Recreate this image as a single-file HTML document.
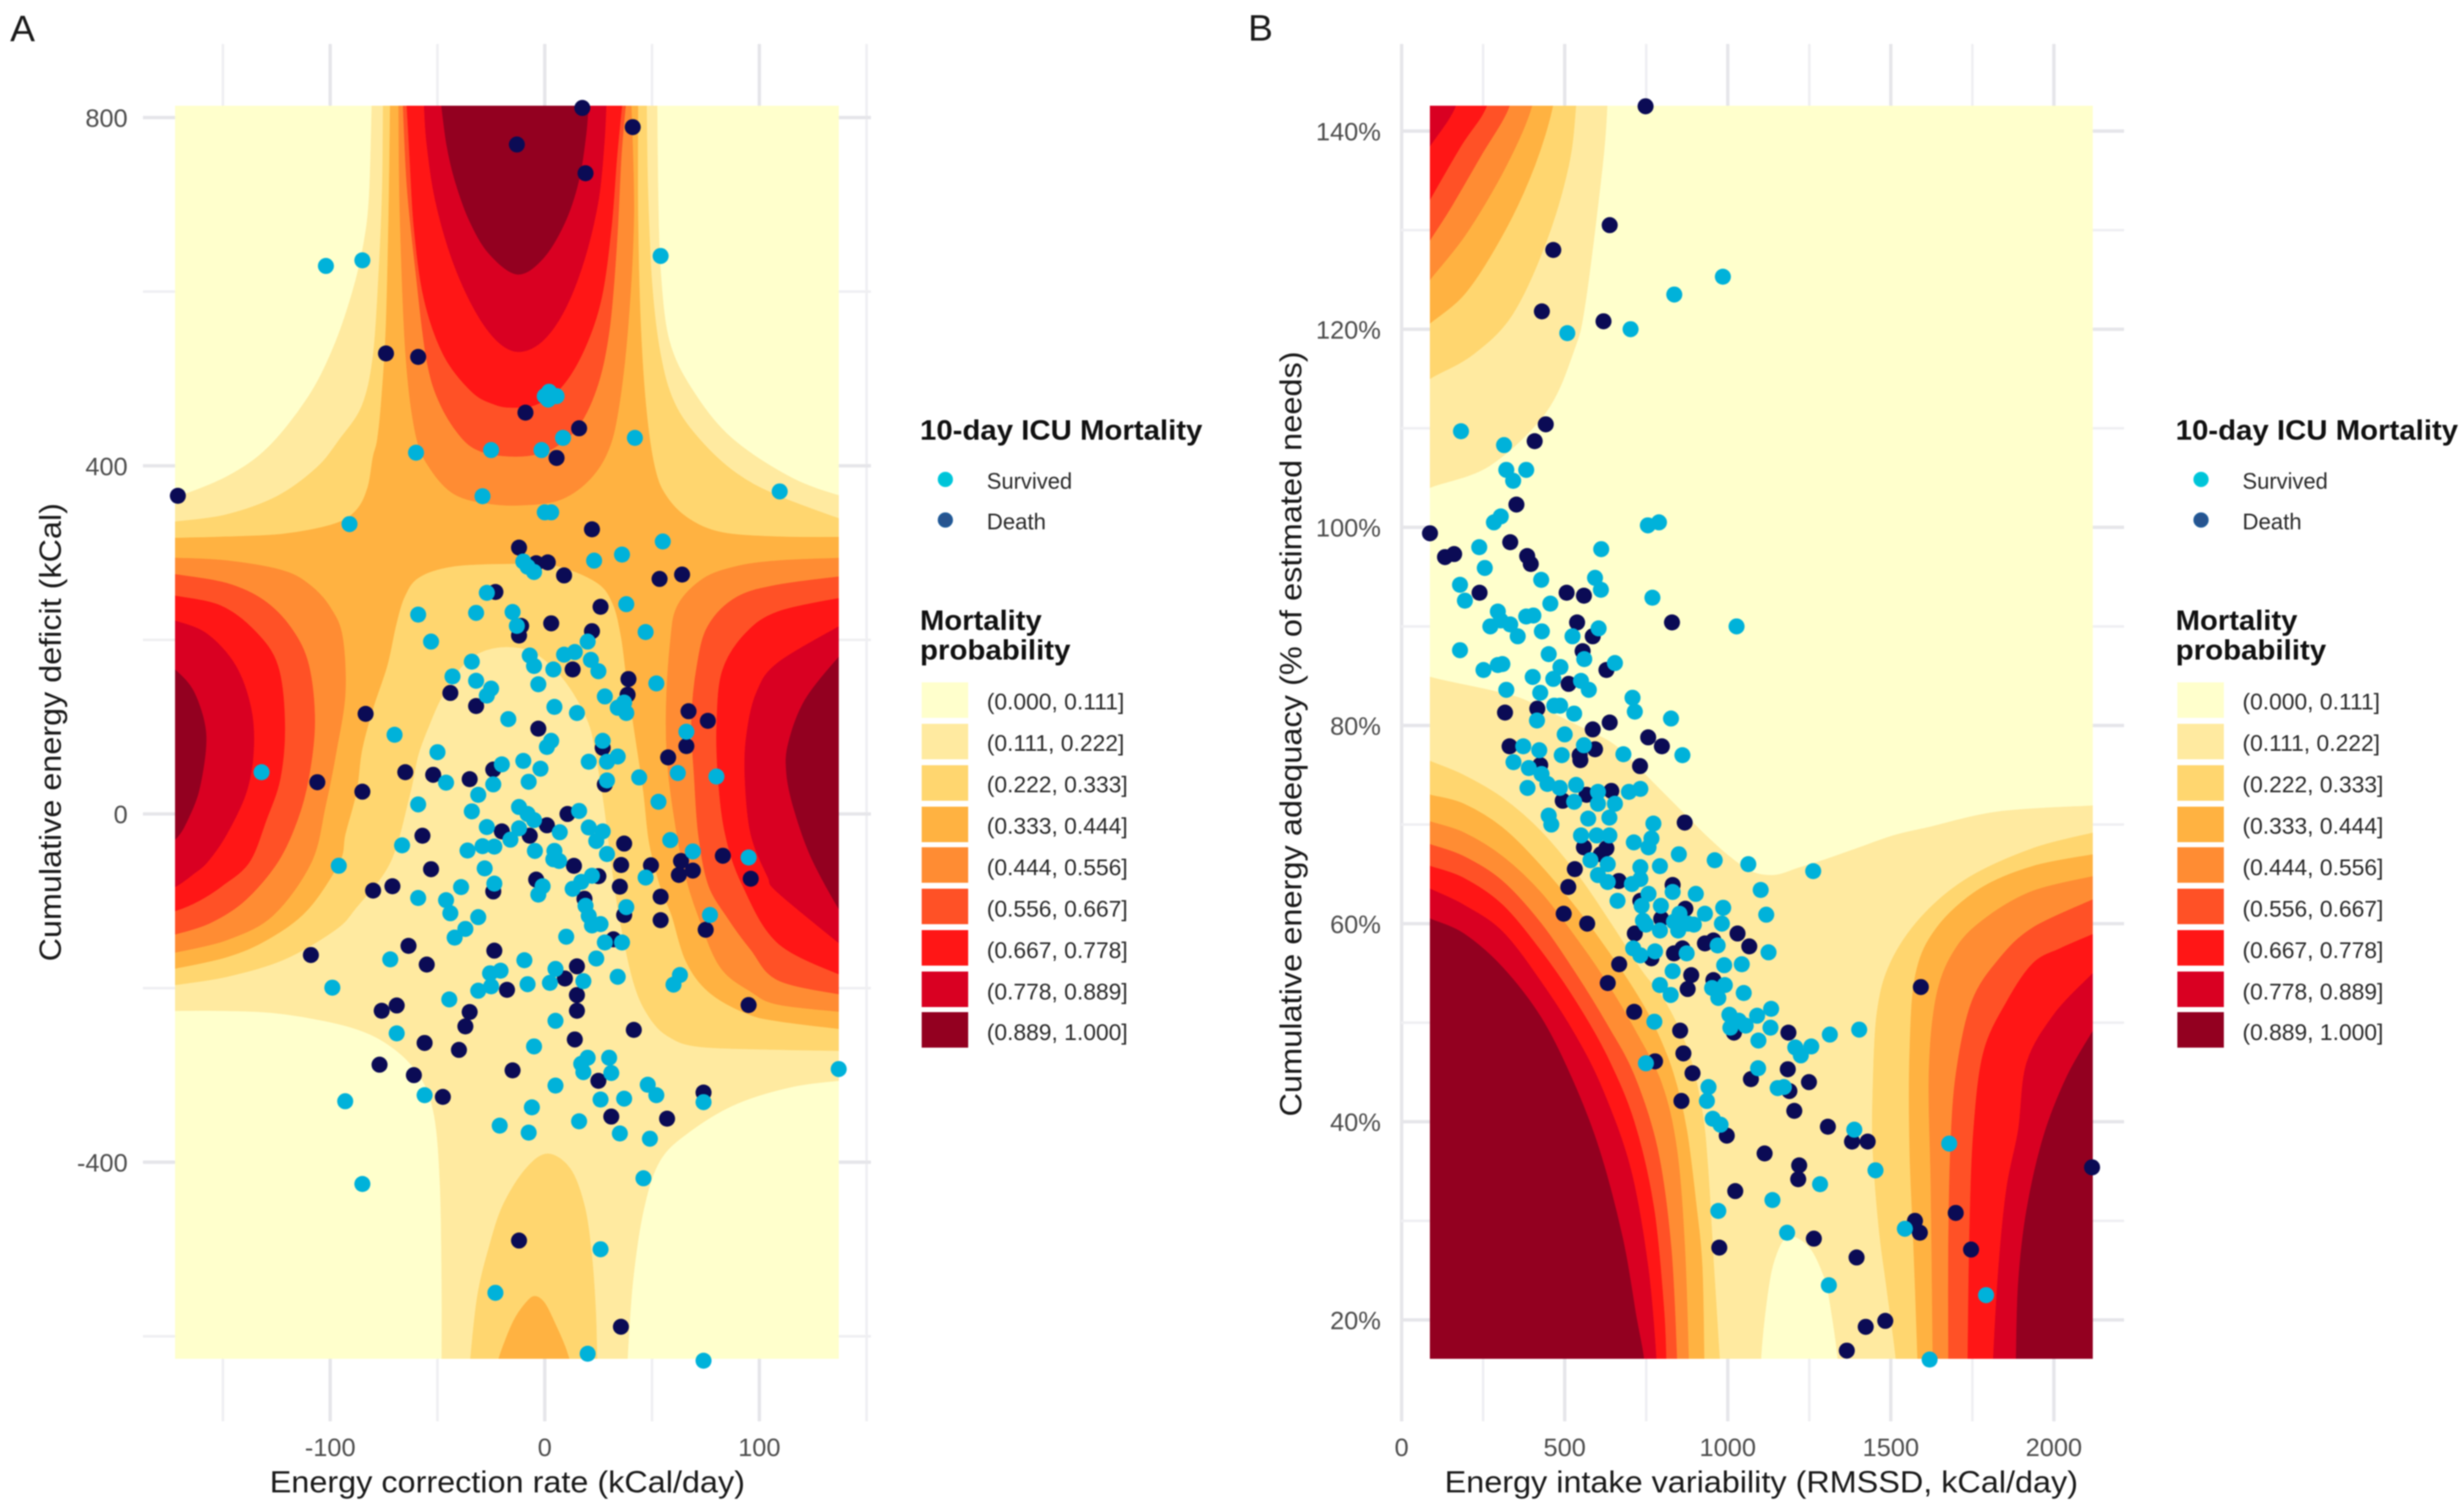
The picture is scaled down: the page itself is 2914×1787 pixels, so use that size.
<!DOCTYPE html>
<html lang="en">
<head>
<meta charset="utf-8">
<title>10-day ICU mortality probability maps</title>
<style>
html,body{margin:0;padding:0;background:#fff;width:2914px;height:1787px;overflow:hidden}
svg{display:block;filter:blur(0.8px)}
text{font-family:"Liberation Sans",sans-serif;fill:#1a1a1a}
.tick{font-size:30px;fill:#4d4d4d}
.title{font-size:36px}
.leg{font-size:27px;fill:#2a2a2a}
.legt{font-size:33px;font-weight:bold;fill:#111}
.pl{font-size:44px}
</style>
</head>
<body>
<svg id="chart" xmlns="http://www.w3.org/2000/svg" width="2914" height="1787" viewBox="0 0 2914 1787">
<defs>
<clipPath id="clipA"><rect x="207" y="125" width="785" height="1482"/></clipPath>
<clipPath id="clipB"><rect x="1691" y="125" width="784" height="1482"/></clipPath>
</defs>
<rect width="2914" height="1787" fill="#fff"/>

<g id="gridA"></g>
<g id="gridB"></g>
<g id="fillA" clip-path="url(#clipA)"></g>
<g id="fillB" clip-path="url(#clipB)"></g>
<g id="ptsA"></g>
<g id="ptsB"></g>
<g id="ticksA"></g>
<g id="ticksB"></g>

<text class="pl" x="12" y="49">A</text>
<text class="pl" x="1476" y="48">B</text>

<text class="title" x="600" y="1765" text-anchor="middle" textLength="562" lengthAdjust="spacingAndGlyphs">Energy correction rate (kCal/day)</text>
<text class="title" transform="translate(72,866) rotate(-90)" text-anchor="middle" textLength="542" lengthAdjust="spacingAndGlyphs">Cumulative energy deficit (kCal)</text>
<text class="title" x="2083" y="1765" text-anchor="middle" textLength="749" lengthAdjust="spacingAndGlyphs">Energy intake variability (RMSSD, kCal/day)</text>
<text class="title" transform="translate(1539,868) rotate(-90)" text-anchor="middle" textLength="905" lengthAdjust="spacingAndGlyphs">Cumulative energy adequacy (% of estimated needs)</text>

<g>
<text class="legt" x="1088" y="520" textLength="334" lengthAdjust="spacingAndGlyphs">10-day ICU Mortality</text>
<circle cx="1118" cy="567" r="8" fill="#00c4d8" stroke="#00c8dc" stroke-width="2"/>
<text class="leg" x="1167" y="578" textLength="101" lengthAdjust="spacingAndGlyphs">Survived</text>
<circle cx="1118" cy="615" r="8" fill="#27548f" stroke="#1f5a99" stroke-width="2"/>
<text class="leg" x="1167" y="626" textLength="70" lengthAdjust="spacingAndGlyphs">Death</text>
<text class="legt" x="1088" y="745" textLength="144" lengthAdjust="spacingAndGlyphs">Mortality</text>
<text class="legt" x="1088" y="780" textLength="178" lengthAdjust="spacingAndGlyphs">probability</text>
<rect x="1090" y="807" width="55" height="42" fill="#FFFFCC"/><text class="leg" x="1167" y="839">(0.000, 0.111]</text>
<rect x="1090" y="856" width="55" height="42" fill="#FFEAA0"/><text class="leg" x="1167" y="888">(0.111, 0.222]</text>
<rect x="1090" y="905" width="55" height="42" fill="#FFD66F"/><text class="leg" x="1167" y="937">(0.222, 0.333]</text>
<rect x="1090" y="954" width="55" height="42" fill="#FFB241"/><text class="leg" x="1167" y="986">(0.333, 0.444]</text>
<rect x="1090" y="1002" width="55" height="42" fill="#FF8C33"/><text class="leg" x="1167" y="1035">(0.444, 0.556]</text>
<rect x="1090" y="1051" width="55" height="42" fill="#FF5126"/><text class="leg" x="1167" y="1084">(0.556, 0.667]</text>
<rect x="1090" y="1100" width="55" height="42" fill="#FF1616"/><text class="leg" x="1167" y="1133">(0.667, 0.778]</text>
<rect x="1090" y="1149" width="55" height="42" fill="#D90022"/><text class="leg" x="1167" y="1182">(0.778, 0.889]</text>
<rect x="1090" y="1197" width="55" height="42" fill="#930020"/><text class="leg" x="1167" y="1230">(0.889, 1.000]</text>
</g>

<g transform="translate(1485,0)">
<text class="legt" x="1088" y="520" textLength="334" lengthAdjust="spacingAndGlyphs">10-day ICU Mortality</text>
<circle cx="1118" cy="567" r="8" fill="#00c4d8" stroke="#00c8dc" stroke-width="2"/>
<text class="leg" x="1167" y="578" textLength="101" lengthAdjust="spacingAndGlyphs">Survived</text>
<circle cx="1118" cy="615" r="8" fill="#27548f" stroke="#1f5a99" stroke-width="2"/>
<text class="leg" x="1167" y="626" textLength="70" lengthAdjust="spacingAndGlyphs">Death</text>
<text class="legt" x="1088" y="745" textLength="144" lengthAdjust="spacingAndGlyphs">Mortality</text>
<text class="legt" x="1088" y="780" textLength="178" lengthAdjust="spacingAndGlyphs">probability</text>
<rect x="1090" y="807" width="55" height="42" fill="#FFFFCC"/><text class="leg" x="1167" y="839">(0.000, 0.111]</text>
<rect x="1090" y="856" width="55" height="42" fill="#FFEAA0"/><text class="leg" x="1167" y="888">(0.111, 0.222]</text>
<rect x="1090" y="905" width="55" height="42" fill="#FFD66F"/><text class="leg" x="1167" y="937">(0.222, 0.333]</text>
<rect x="1090" y="954" width="55" height="42" fill="#FFB241"/><text class="leg" x="1167" y="986">(0.333, 0.444]</text>
<rect x="1090" y="1002" width="55" height="42" fill="#FF8C33"/><text class="leg" x="1167" y="1035">(0.444, 0.556]</text>
<rect x="1090" y="1051" width="55" height="42" fill="#FF5126"/><text class="leg" x="1167" y="1084">(0.556, 0.667]</text>
<rect x="1090" y="1100" width="55" height="42" fill="#FF1616"/><text class="leg" x="1167" y="1133">(0.667, 0.778]</text>
<rect x="1090" y="1149" width="55" height="42" fill="#D90022"/><text class="leg" x="1167" y="1182">(0.778, 0.889]</text>
<rect x="1090" y="1197" width="55" height="42" fill="#930020"/><text class="leg" x="1167" y="1230">(0.889, 1.000]</text>
</g>
</svg>

<script>
const levelColors = ['#FFFFCC','#FFEAA0','#FFD66F','#FFB241','#FF8C33','#FF5126','#FF1616','#D90022','#930020'];

const xTicksA = [-100,0,100];
const yTicksA = [-400,0,400,800];
const xGridA = [-150,-100,-50,0,50,100,150];
const yGridA = [-600,-400,-200,0,200,400,600,800];
const xTicksB = [0,500,1000,1500,2000];
const yTicksB = [20,40,60,80,100,120,140];
const xGridB = [0,250,500,750,1000,1250,1500,1750,2000];
const yGridB = [20,30,40,50,60,70,80,90,100,110,120,130,140];

const survivedA = [[55,313],[36,298],[23,291],[-10,290],[-8,284],[-5,278],[-27,254],[-59,229],[-32,231],[38,241],[-15,232],[-13,216],[20,198],[47,209],[-53,198],[-7,182],[-5,170],[9,183],[14,186],[21.5,177],[25,164],[-34,175],[4,166],[-43,158],[-32,153],[-3,149],[52,150],[-25,144],[-27,136],[28,135],[37,128],[34,122],[38,116],[4.5,123],[15,116],[-17,109],[66,94.5],[-70,91],[3,84],[1,77],[27,84],[34,66],[29,60],[-50,71],[20.5,60],[-10,61],[-20,57],[-2,52],[-46,36],[-24,34],[-7.5,37],[29,38.5],[44,42],[62,47],[80,43],[-31,22],[53,14],[-59,11],[-34,3],[-12,8],[-8,0],[-5,-7],[16,3.5],[20.5,-15.5],[27,-20],[24,-31],[-27,-15],[-12,-16.5],[-16,-29.5],[7,-21],[58.5,-30],[-66.5,-36],[-36,-42],[-29,-37],[-23.5,-37.5],[-4.6,-42.4],[4.5,-42.4],[4,-52],[6.7,-54],[29,-46],[69,-43],[95,-50],[-28,-62.5],[47,-73],[22,-71],[-1,-83],[-23.5,-80],[-39,-84],[17,-78],[13,-86],[-59,-96.5],[-3,-92.6],[-46,-99],[-44,-114],[19,-105.5],[-31,-118.5],[38,-107],[77,-116],[20.5,-117],[22,-128],[26,-126.5],[-37,-132],[-42,-142],[10,-141],[28,-147.6],[36,-147.6],[24,-166],[-72,-167],[-9.5,-168],[5,-178],[18,-192],[2.4,-194],[34,-187],[-8,-195.5],[-25.5,-183],[-20.6,-180],[-25,-198],[-31,-203],[-44.5,-213],[63,-185],[60,-196],[5,-237.6],[-69,-252],[-5,-267],[20,-280],[17,-287],[18,-296.5],[30,-280],[31,-297.5],[5,-312],[48,-311],[52,-323],[74,-331],[-56,-323],[-6,-337],[26,-328],[37,-327],[-21,-358],[-7.5,-366],[16,-353],[35,-367],[49,-373],[46,-418.5],[-85,-425],[26,-500],[-23,-550],[20,-620],[74,-628],[137,-293],[54,641],[-85,636],[-102,629.5],[2,485],[0,480],[5.5,480],[1.6,476],[8.5,432],[42,432],[-25,418],[-1.5,418],[-60,415],[109.5,370.5],[-29,365],[0,346.5],[3,346.5],[-91,333],[-132,48],[-96,-59.5],[-99,-199.5],[-93,-330]];

const deathA = [[-12,306],[22,327],[1.4,289],[-4,288],[9,274],[53.5,270],[64,275],[-23,255],[26,238],[-11,216],[-12,205],[3,219],[22,210],[13,166],[39,155],[-44,139],[-32,124],[38.6,137],[-83.5,115],[67,118],[76,107],[-3,98],[27,76],[66,78],[57.5,65],[-24,51],[-65,48],[-52,45],[-35,40],[28,34],[-85,25.6],[10.6,0],[1,-13],[-20,-20],[-7,-25],[-57,-25],[37,-34],[83,-48],[63.5,-54],[69,-65],[62.5,-70],[49.5,-59],[35.6,-58.6],[13.6,-59.6],[-53,-63.4],[96,-74.4],[25,-71.5],[-4,-75.4],[-24,-89],[35,-83.5],[-80,-88],[-71,-83],[18.5,-97.4],[54,-95],[37,-116],[54,-122],[75,-133],[-63.5,-151.5],[-55,-173],[-23.5,-157],[32,-144],[15,-175],[9.4,-189],[-17.6,-202],[15,-208],[15,-226],[95,-219.5],[-69,-220],[-76,-226],[-35,-227.5],[-37,-244],[-56,-263],[41.5,-248],[-40,-271],[14,-259],[-77,-288],[-61,-300],[-15,-294.5],[25,-306.5],[74,-320],[-47.5,-325],[31,-347.6],[57,-350],[-12,-490],[35.5,-589],[17.5,811],[41,789],[-13,769],[19,736],[-74,529],[-59,525],[-9,461],[16,443],[5.5,409],[-171,365.5],[-106,36.5],[-109,-162]];

const survivedB = [[985,125.3],[836,123.5],[702,120],[508,119.6],[182,109.7],[314,108.3],[321,105.8],[382,105.8],[342,104.7],[304,101.1],[283,100.5],[789,100.5],[755,100.2],[238,98],[612,97.8],[255,95.9],[593,94.9],[428,94.7],[179,94.2],[611,93.7],[769,92.9],[194,92.6],[456,92.3],[295,91.5],[382,91],[404,91.1],[304,90.6],[333,90.2],[1027,90],[272,90],[604,89.8],[430,89.5],[356,89],[524,89],[179,87.6],[451,87.2],[560,86.7],[654,86.3],[309,86.2],[295,86.1],[487,85.9],[251,85.6],[402,84.9],[465,84.7],[550,84.5],[574,83.6],[321,83.6],[425,83.3],[708,82.8],[468,82],[486,82],[715,81.4],[529,81.2],[826,80.7],[415,80.5],[500,79.1],[373,77.9],[422,77.5],[559,78],[491,77],[680,77.1],[861,77],[343,76.3],[390,75.7],[386,73.7],[429,75.1],[447,74.1],[485,73.7],[535,74],[529,72.3],[602,73.3],[602,72.1],[654,72.1],[697,73.3],[732,73.6],[451,70.9],[459,70],[572,70.6],[637,70.7],[772,70.1],[550,68.9],[598,68.9],[637,68.9],[712,68.2],[766,68.6],[757,67.7],[579,66.4],[632,66],[850,67],[960,66.4],[1063,66],[1262,65.3],[732,65.7],[792,65.8],[602,64.9],[632,64.2],[706,64],[732,64.5],[757,63],[831,63.2],[1101,63.4],[662,62.3],[902,63],[736,61.8],[795,61.8],[986,61.6],[1118,60.9],[930,61],[852,61],[740,60.3],[835,60.2],[878,60],[982,60],[792,59.3],[848,59.3],[896,59.9],[749,59.9],[969,57.8],[1125,57.1],[710,57.5],[732,56.8],[777,57.2],[874,57],[989,55.8],[1043,55.9],[831,55.2],[792,53.8],[952,53.5],[991,53.8],[825,52.8],[1049,53],[971,52.5],[1005,50.8],[775,50.1],[1133,51.4],[1090,50.7],[1034,50.2],[1055,49.7],[1131,49.5],[1008,49.5],[1094,48.2],[1313,48.8],[1403,49.3],[1207,47.5],[1256,47.6],[1224,46.7],[749,45.9],[1093,45.4],[1153,43.4],[1172,43.5],[941,43.5],[936,42.1],[954,40.3],[978,39.7],[1388,39.2],[1679,37.8],[1453,35.1],[1283,33.7],[1137,32.1],[971,31],[1543,29.2],[1182,28.8],[1792,22.5],[1310,23.5],[1619,16]];

const deathB = [[748,142.5],[638,130.5],[465,128],[430,121.8],[619,120.8],[442,110.4],[408,108.7],[352,102.3],[87,99.4],[333,98.5],[133,97],[161,97.3],[385,97.1],[396,96.3],[239,93.4],[506,93.4],[559,93.1],[538,90.4],[829,90.4],[586,89],[555,87.5],[628,85.6],[512,84.2],[416,81.7],[317,81.3],[638,80.3],[586,79.6],[756,78.8],[798,77.9],[331,77.9],[593,77.6],[546,77],[425,76],[548,76.5],[731,75.9],[494,72.4],[567,73],[643,73.4],[868,70.2],[559,67.7],[628,67.6],[611,67],[531,65.5],[666,64.3],[511,63.7],[831,63.9],[732,62.3],[497,61],[569,60],[870,61.5],[796,60.5],[715,59],[1030,59],[930,58],[956,58.3],[1066,57.7],[766,56.5],[835,57],[861,57.5],[667,55.9],[888,54.8],[632,54],[956,54.3],[877,53.4],[713,51.1],[1019,49],[854,49.2],[1186,49],[864,46.9],[777,46.1],[1184,45.3],[892,44.9],[1071,44.3],[1249,44],[1189,43.1],[858,42.1],[1204,41.1],[997,38.6],[1307,39.5],[1381,38],[1429,38],[1113,36.8],[1219,35.6],[1216,34.2],[1023,33],[1574,30],[1589,28.8],[1699,30.8],[1264,28.2],[974,27.3],[1746,27.1],[1395,26.3],[1592,53.6],[1483,19.9],[1423,19.3],[1365,16.9],[2117,35.4]];

/* Contour bands in data units: [level, ring]; a ring is a list of smooth curves joined by straight edges. */
const bandsA = [
[1,[[[-80.5,820],[-81.8,711],[-84.4,655],[-89.7,599],[-99,533],[-110.8,477],[-129,421],[-147.8,388],[-171.5,364],[-178,361]],
    [[-178,-226],[-147.8,-226],[-121,-230],[-89.7,-245.6],[-71.2,-268],[-58,-302],[-51.5,-346.7],[-48.8,-425],[-48,-538],[-48,-635]],
    [[38.3,-635],[41,-538],[46.2,-453],[54,-397],[68.6,-363],[89.7,-332.6],[116,-313],[142,-305]],
    [[142,362],[116,385],[87,432],[68.6,488],[58,544],[54,622],[52.8,711],[52.3,820]]]],
[2,[[[-75.3,820],[-75.7,721],[-77.3,624],[-80,527],[-85.2,469],[-95.7,430],[-106.2,398],[-124.5,365.3],[-148.2,344],[-171.1,336],[-178,335]],
    [[-178,-197],[-171.5,-196],[-147.8,-186.6],[-121.4,-167],[-97.6,-133],[-87.8,-107.3],[-72,-55.3],[-62.9,22.3],[-59,67.6],[-53.7,103],[-48.4,132.4],[-39.2,168],[-30,185.7],[-18.2,192],[-6.4,187],[4,168],[13.3,139],[21.1,100],[25,51.4],[27.7,9.4],[31,-55.4],[34.9,-120],[41.5,-194.5],[48.7,-233.4],[57.9,-256],[72.3,-267.3],[109,-270.6],[142,-272]],
    [[142,335],[109,365.3],[89.4,391.2],[72.3,430],[60.5,472],[54,527],[50,608],[48,721.3],[47.4,822]]]],
[2,[[[-34.7,-635],[-34.7,-628],[-31.4,-554],[-26.1,-499],[-19.6,-450],[-9,-408],[1.4,-390.3],[12,-408],[18.5,-450],[21.8,-505],[23.7,-570],[24.4,-635]]]],
[3,[[[-72,820],[-72.7,689],[-74,559.5],[-76,478.6],[-78,430],[-80,410.6],[-82.5,375],[-87.8,349],[-98.3,333],[-122,321.6],[-148.2,318.4],[-171,317],[-178,317]],
    [[-178,-178],[-171.5,-177],[-147.8,-164],[-129.3,-144.4],[-110.8,-110.7],[-95.8,-55.7],[-93,-23],[-87.8,25.5],[-85.2,74],[-79.9,122.6],[-73.4,171],[-69.4,216.4],[-65.5,248.8],[-58.9,271.4],[-43.2,284.4],[-16.9,287.6],[4,286],[23.8,266.7],[31.6,242.4],[35.6,203.6],[38.2,155],[42.1,90.3],[46,25.6],[48.7,-32.7],[54,-84.5],[59.2,-116.8],[65.7,-168.6],[76.2,-204],[93.3,-228.5],[109,-238],[142,-248]],
    [[142,318],[109,318.4],[82.8,323.3],[67,339.4],[56.6,365.3],[51.3,397.7],[47.4,462.4],[44.7,559.5],[43.4,689],[43.4,820]]]],
[3,[[[-22.5,-635],[-20,-615],[-14.5,-582],[-9,-562],[-4.7,-554],[0,-562],[5.3,-588],[9.5,-612],[12.5,-635]]]],
[4,[[[-68.1,820],[-67.5,689],[-64.8,527],[-60.2,436.5],[-53.7,397.7],[-41.9,367],[-24.8,356],[-9,355],[6.7,360.5],[19.8,381.5],[29,414],[34.2,462.4],[38.8,559.5],[41.5,689],[40.2,820]]]],
[4,[[[-178,294],[-171.1,294],[-148.2,291],[-121.9,279.5],[-108.8,261.7],[-99.6,235.8],[-94.3,203.5],[-93,138.7],[-97,74],[-102.2,9.3],[-108.8,-55.4],[-126.6,-116.4],[-147.8,-144.4],[-171.5,-158.5],[-178,-160]]]],
[4,[[[142,295],[137.4,294],[109,291],[89.4,284.5],[73.6,270],[61.8,239],[58.5,197],[56.6,122.6],[57.2,58],[60.5,-6.8],[65,-65],[71,-113.6],[81.5,-175],[96,-204],[109,-219],[142,-228]]]],
[5,[[[-66.1,820],[-64.2,721.3],[-60.2,624],[-55,521],[-48.4,469],[-38,430],[-28.7,415.5],[-17.6,411],[-6.4,412],[4,420],[15.9,446],[25,495],[30.3,559.5],[33.6,656.6],[35.6,753.7],[37.9,820]]]],
[5,[[[-178,275],[-171.1,274.7],[-148.2,265],[-131,245.5],[-118,213],[-110,171],[-107.2,106],[-110,41.7],[-115.3,-7],[-124.5,-55.4],[-139.8,-99.5],[-155.7,-124.8],[-171.5,-137.7],[-178,-140]]]],
[5,[[[142,274],[109,263.4],[89.4,249],[76.2,216.5],[71,171],[68.4,106.5],[69.7,41.7],[71.6,-23],[76.2,-81],[85.4,-120],[96,-155.7],[109,-191.3],[142,-209]]]],
[6,[[[-64.4,820],[-62.9,754],[-60.9,673],[-56.3,592],[-47.1,527],[-34,485],[-23.5,470.5],[-15,467],[-3.8,470.5],[8,491],[18.5,534],[26.4,592],[31,673],[33.6,754],[36.2,820]]]],
[6,[[[-178,251],[-171.1,250],[-150.8,239],[-135,210],[-124.5,171],[-121.2,106],[-123.2,41.7],[-129.8,-7],[-137.7,-55.4],[-150.4,-82.6],[-161,-99.5],[-171.5,-110.7],[-178,-113]]]],
[6,[[[142,250],[109,232.7],[93.3,206.8],[82.8,164.7],[80.2,106.5],[80.8,41.7],[84.1,-23],[92,-81],[109,-149],[142,-189]]]],
[7,[[[-56.3,820],[-55,770],[-51,705],[-43.2,637],[-32.7,579],[-22.2,543.3],[-12.3,531],[-1.2,543],[9.3,579],[18.5,637],[25,705],[27.7,770],[28.7,820]]]],
[7,[[[-178,224],[-171.1,221],[-157.3,206.7],[-144.2,171],[-137,122.6],[-135.7,74],[-139,25.5],[-148.2,-23],[-157.3,-55.4],[-163.6,-68.6],[-171.5,-82.6],[-178,-88]]]],
[7,[[[142,222],[109,174.4],[98.6,139],[94,90],[93.3,41.7],[96,-23],[103.8,-71.5],[109,-91],[142,-158]]]],
[8,[[[-48.4,820],[-45.8,770],[-41.9,728],[-35.3,682.5],[-26.1,644],[-13,620],[-1.2,637],[9.3,679],[15.9,728],[19.2,780],[20.5,820]]]],
[8,[[[-178,175],[-171.1,163],[-163.9,142],[-158.7,106],[-158,74],[-161.3,25.5],[-166.5,-7],[-171.1,-26.3],[-178,-40]]]],
[8,[[[142,190],[137.5,181.6],[121.4,131.5],[113.5,81],[112.7,46.6],[116,7],[124,-49],[137.5,-111],[142,-125]]]]
];

const bandsB = [
[1,[[[70,85.5],[86.6,84.9],[251.5,83.7],[317,83.2],[369,82.7],[429,81.8],[533,80.1],[636.5,78.4],[688,77],[757.4,74.7],[826.5,72.4],[878,70.7],[939,68.7],[1008,66.7],[1077,65.2],[1146,64.9],[1215,65.6],[1293,66.4],[1396.5,67.6],[1509,68.9],[1612.5,69.7],[1830,71.3],[2117,71.9],[2125,71.9]],
    [[2125,12]],
    [[1342,12],[1338,15.9],[1314,21.6],[1296,24.3],[1249,27.4],[1183,28.4],[1141.5,25.9],[1118,21.6],[1101,15.9],[1099,12]],
    [[70,12]]]],
[1,[[[632,146],[630,142.5],[616,136.5],[564,122.8],[529,117.9],[442,111.6],[269,106.2],[86.6,104],[70,103]],[[70,146]]]],
[2,[[[536,146],[534,142.5],[512,136.5],[442,128.7],[338,121.4],[217,117.4],[87,115],[70,114]],[[70,146]]]],
[3,[[[465,146],[463,142.5],[408,136.5],[321,130.2],[199.4,123.8],[87,120.6],[70,120]],[[70,146]]]],
[4,[[[401,146],[399,142.5],[321,136.5],[199.4,129.7],[87,125],[70,124]],[[70,146]]]],
[5,[[[332,146],[330,142.5],[243,137.5],[147.4,132.1],[87,129],[70,128]],[[70,146]]]],
[6,[[[262,146],[260,142.5],[182,138.5],[87,133.1],[70,132]],[[70,146]]]],
[7,[[[167,146],[165,142.5],[87,138.5],[70,137.5]],[[70,146]]]],
[2,[[[70,76.8],[87.6,76.4],[190,75],[309,72.7],[428,69.3],[547,64.6],[642,60],[737,55.2],[808.5,52.1],[880,47],[921.5,41.1],[939.3,35.3],[957,25.5],[975,15.9],[977,12]],[[70,12]]]],
[3,[[[70,73.3],[87.6,73],[190,72.1],[309,69.7],[428,65.8],[547,61.1],[642,56.8],[713,53.3],[773,49.8],[832,45],[874,39.2],[904,31.4],[921.5,25.5],[927.4,15.9],[928,12]],[[70,12]]]],
[4,[[[70,70.6],[87.6,70.3],[190,69.2],[309,66.8],[428,63.1],[547,58],[630,54],[713,49.4],[797,43.9],[844,37.2],[868,27.4],[880,15.9],[881,12]],[[70,12]]]],
[5,[[[70,68.3],[87.6,68],[190,66.8],[309,64.3],[428,60],[535,54.9],[630,49.8],[713,44.7],[785,37.2],[826,27.4],[844,15.9],[845,12]],[[70,12]]]],
[6,[[[70,66.1],[87.6,65.8],[190,64.6],[309,61.9],[428,57.2],[535,52.1],[630,46.6],[713,40],[773,31.4],[803,21.6],[811,15.9],[812,12]],[[70,12]]]],
[7,[[[70,63.9],[87.6,63.5],[190,61.9],[309,59.2],[428,54.1],[535,48.6],[618,43.1],[701.5,35.3],[755,25.5],[781,15.9],[782,12]],[[70,12]]]],
[8,[[[70,61],[87.6,60.5],[190,59],[309,55.6],[428,50.5],[523,44.3],[606,37.2],[678,28.2],[719,20.4],[743,15.9],[745,12]],[[70,12]]]],
[2,[[[2125,69.2],[1936,67.6],[1736,64.6],[1594,60.7],[1498,56],[1457,50.9],[1445,43.1],[1445,37.2],[1463,29.4],[1486,23.5],[1516,15.9],[1518,12]],[[2125,12]]]],
[3,[[[2125,67],[1936,65.8],[1772,63.5],[1641,59.6],[1576,54.9],[1558,47],[1558,37.2],[1570,27.4],[1582,16.2],[1584,12]],[[2125,12]]]],
[4,[[[2125,64.8],[1936,63.3],[1796,60.7],[1700.5,57.6],[1641,52.9],[1617,45],[1623,33.3],[1629,16.2],[1630,12]],[[2125,12]]]],
[5,[[[2125,62.5],[1936,59.6],[1831,56.4],[1748,52.1],[1700.5,45],[1683,37.2],[1677,27.4],[1677,16.2],[1677,12]],[[2125,12]]]],
[6,[[[2125,59],[2020,57.5],[1936,56],[1855,52.1],[1784,47],[1754,39.2],[1742,29.4],[1736,16],[1735,12]],[[2125,12]]]],
[7,[[[2125,55.2],[2117,54.9],[2004,51],[1917,46],[1891,39.2],[1855,33.3],[1831,25.5],[1814,15.9],[1812,12]],[[2125,12]]]],
[8,[[[2125,49.2],[2117,49],[2039,44.5],[1969,38.6],[1917,31.2],[1891,23.8],[1884,15.7],[1883,12]],[[2125,12]]]]
];

const NS = 'http://www.w3.org/2000/svg';
function linear(d, r){ const k=(r[1]-r[0])/(d[1]-d[0]); return v=>r[0]+(v-d[0])*k; }
const xA = linear([-100,100],[390.5,898]);
const yA = linear([-400,800],[1374.5,139]);
const xB = linear([0,2000],[1657.6,2429]);
const yB = linear([20,140],[1561,155]);

function add(parent, tag, attrs, txt){
  const e = document.createElementNS(NS, tag);
  for (const k in attrs) e.setAttribute(k, attrs[k]);
  if (txt !== undefined) e.textContent = txt;
  parent.appendChild(e);
  return e;
}
function curvePath(pts, first){
  let s = (first ? 'M' : 'L') + pts[0][0].toFixed(1) + ' ' + pts[0][1].toFixed(1);
  for (let i=0;i<pts.length-1;i++){
    const p0=pts[Math.max(i-1,0)], p1=pts[i], p2=pts[i+1], p3=pts[Math.min(i+2,pts.length-1)];
    const c1x=p1[0]+(p2[0]-p0[0])/6, c1y=p1[1]+(p2[1]-p0[1])/6;
    const c2x=p2[0]-(p3[0]-p1[0])/6, c2y=p2[1]-(p3[1]-p1[1])/6;
    s += 'C'+c1x.toFixed(1)+' '+c1y.toFixed(1)+' '+c2x.toFixed(1)+' '+c2y.toFixed(1)+' '+p2[0].toFixed(1)+' '+p2[1].toFixed(1);
  }
  return s;
}
function drawBands(host, bands, fx, fy, rect){
  const base = add(host,'rect',{x:rect[0],y:rect[1],width:rect[2],height:rect[3],fill:levelColors[0]});
  
  
  const ordered = bands.slice().sort((a,b)=>a[0]-b[0]);
  ordered.forEach(b=>{
    let d='';
    b[1].forEach((curve,i)=>{ d += curvePath(curve.map(p=>[fx(p[0]),fy(p[1])]), i===0); });
    const path = add(host,'path',{d:d+'Z',fill:levelColors[b[0]],stroke:levelColors[b[0]],'stroke-width':0.6});
    
    
  });
}
function drawGrid(host, xs, ys, fx, fy, xMajor, yMajor, xr, yr){
  xs.forEach(v=>{
    const major = xMajor.includes(v);
    const l = add(host,'line',{x1:fx(v),x2:fx(v),y1:yr[0],y2:yr[1],stroke:major?'#e6e6ea':'#efeff2','stroke-width':major?4:3});
    
    
  });
  ys.forEach(v=>{
    const major = yMajor.includes(v);
    const l = add(host,'line',{y1:fy(v),y2:fy(v),x1:xr[0],x2:xr[1],stroke:major?'#e6e6ea':'#efeff2','stroke-width':major?4:3});
    
    
  });
}
function drawPoints(host, arr, fx, fy, color, name){
  arr.forEach(p=>{
    const c = add(host,'circle',{cx:fx(p[0]),cy:fy(p[1]),r:9.5,fill:color});
    
    
  });
}
function drawTicks(host, xs, ys, fx, fy, yRight, fmt, tickY){
  xs.forEach(v=>{
    const t = add(host,'text',{class:'tick',x:fx(v),y:tickY,'text-anchor':'middle'},String(v));
    
    
  });
  ys.forEach(v=>{
    const t = add(host,'text',{class:'tick',x:yRight,y:fy(v)+11,'text-anchor':'end'},fmt(v));
    
    
  });
}

drawGrid(document.getElementById('gridA'), xGridA, yGridA, xA, yA, xTicksA, yTicksA, [169,1030], [52,1681]);
drawGrid(document.getElementById('gridB'), xGridB, yGridB, xB, yB, xTicksB, yTicksB, [1657,2512], [52,1681]);
drawBands(document.getElementById('fillA'), bandsA, xA, yA, [207,125,785,1482]);
drawBands(document.getElementById('fillB'), bandsB, xB, yB, [1691,125,784,1482]);
drawPoints(document.getElementById('ptsA'), deathA, xA, yA, '#0b0b55', 'death-point');
drawPoints(document.getElementById('ptsA'), survivedA, xA, yA, '#00b2da', 'survived-point');
drawPoints(document.getElementById('ptsB'), deathB, xB, yB, '#0b0b55', 'death-point');
drawPoints(document.getElementById('ptsB'), survivedB, xB, yB, '#00b2da', 'survived-point');
drawTicks(document.getElementById('ticksA'), xTicksA, yTicksA, xA, yA, 151, v=>String(v), 1722);
drawTicks(document.getElementById('ticksB'), xTicksB, yTicksB, xB, yB, 1633, v=>v+'%', 1722);
</script>
</body>
</html>
